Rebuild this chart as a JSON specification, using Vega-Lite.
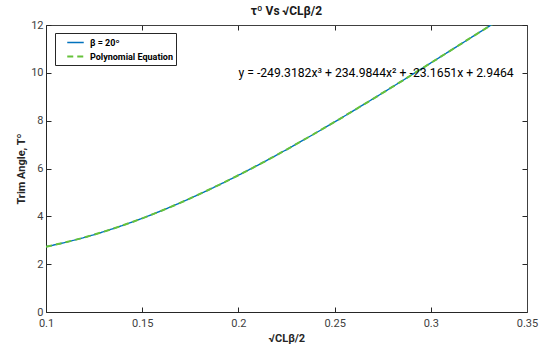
{
  "$schema": "https://vega.github.io/schema/vega-lite/v6.json",
  "width": 481,
  "height": 287,
  "autosize": {"type": "none"},
  "padding": {"left": 46, "top": 25, "right": 24, "bottom": 33},
  "background": "white",
  "config": {
    "font": "Roboto",
    "view": {"stroke": null},
    "axis": {"grid": false, "domainColor": "#262626", "tickColor": "#262626", "labelColor": "#404040", "labelFont": "Roboto", "labelFontSize": 11, "titleFont": "Roboto", "titleFontSize": 11, "titleFontWeight": "bold", "titleColor": "#262626", "tickSize": -5, "domainWidth": 1, "labelFlush": false, "labelOverlap": false}
  },
  "title": {"text": "τº Vs √CLβ/2", "fontSize": 12, "fontWeight": "bold", "font": "Roboto", "color": "#1a1a1a", "offset": 1},
  "datasets": {
    "curve": [
      {"x": 0.10, "y": 2.7304, "series": "β = 20º"},
      {"x": 0.11, "y": 2.9097, "series": "β = 20º"},
      {"x": 0.12, "y": 3.1195, "series": "β = 20º"},
      {"x": 0.13, "y": 3.3584, "series": "β = 20º"},
      {"x": 0.14, "y": 3.6249, "series": "β = 20º"},
      {"x": 0.15, "y": 3.9173, "series": "β = 20º"},
      {"x": 0.16, "y": 4.2344, "series": "β = 20º"},
      {"x": 0.17, "y": 4.5745, "series": "β = 20º"},
      {"x": 0.18, "y": 4.9362, "series": "β = 20º"},
      {"x": 0.19, "y": 5.3179, "series": "β = 20º"},
      {"x": 0.20, "y": 5.7182, "series": "β = 20º"},
      {"x": 0.21, "y": 6.1356, "series": "β = 20º"},
      {"x": 0.22, "y": 6.5686, "series": "β = 20º"},
      {"x": 0.23, "y": 7.0156, "series": "β = 20º"},
      {"x": 0.24, "y": 7.4753, "series": "β = 20º"},
      {"x": 0.25, "y": 7.9461, "series": "β = 20º"},
      {"x": 0.26, "y": 8.4264, "series": "β = 20º"},
      {"x": 0.27, "y": 8.9149, "series": "β = 20º"},
      {"x": 0.28, "y": 9.4099, "series": "β = 20º"},
      {"x": 0.29, "y": 9.9101, "series": "β = 20º"},
      {"x": 0.30, "y": 10.4139, "series": "β = 20º"},
      {"x": 0.31, "y": 10.9198, "series": "β = 20º"},
      {"x": 0.32, "y": 11.4263, "series": "β = 20º"},
      {"x": 0.33, "y": 11.9320, "series": "β = 20º"},
      {"x": 0.335, "y": 12.1840, "series": "β = 20º"},
      {"x": 0.10, "y": 2.7304, "series": "Polynomial Equation"},
      {"x": 0.11, "y": 2.9097, "series": "Polynomial Equation"},
      {"x": 0.12, "y": 3.1195, "series": "Polynomial Equation"},
      {"x": 0.13, "y": 3.3584, "series": "Polynomial Equation"},
      {"x": 0.14, "y": 3.6249, "series": "Polynomial Equation"},
      {"x": 0.15, "y": 3.9173, "series": "Polynomial Equation"},
      {"x": 0.16, "y": 4.2344, "series": "Polynomial Equation"},
      {"x": 0.17, "y": 4.5745, "series": "Polynomial Equation"},
      {"x": 0.18, "y": 4.9362, "series": "Polynomial Equation"},
      {"x": 0.19, "y": 5.3179, "series": "Polynomial Equation"},
      {"x": 0.20, "y": 5.7182, "series": "Polynomial Equation"},
      {"x": 0.21, "y": 6.1356, "series": "Polynomial Equation"},
      {"x": 0.22, "y": 6.5686, "series": "Polynomial Equation"},
      {"x": 0.23, "y": 7.0156, "series": "Polynomial Equation"},
      {"x": 0.24, "y": 7.4753, "series": "Polynomial Equation"},
      {"x": 0.25, "y": 7.9461, "series": "Polynomial Equation"},
      {"x": 0.26, "y": 8.4264, "series": "Polynomial Equation"},
      {"x": 0.27, "y": 8.9149, "series": "Polynomial Equation"},
      {"x": 0.28, "y": 9.4099, "series": "Polynomial Equation"},
      {"x": 0.29, "y": 9.9101, "series": "Polynomial Equation"},
      {"x": 0.30, "y": 10.4139, "series": "Polynomial Equation"},
      {"x": 0.31, "y": 10.9198, "series": "Polynomial Equation"},
      {"x": 0.32, "y": 11.4263, "series": "Polynomial Equation"},
      {"x": 0.33, "y": 11.9320, "series": "Polynomial Equation"},
      {"x": 0.335, "y": 12.1840, "series": "Polynomial Equation"}
    ],
    "note": [
      {"x": 0.2, "y": 10, "label": "y = -249.3182x³ + 234.9844x² + -23.1651x + 2.9464"}
    ]
  },
  "layer": [
    {
      "data": {"name": "curve"},
      "mark": {"type": "line", "clip": true, "interpolate": "monotone"},
      "encoding": {
        "x": {"field": "x", "type": "quantitative", "scale": {"domain": [0.1, 0.35], "nice": false, "zero": false},
              "axis": {"title": "√CLβ/2", "values": [0.1, 0.15, 0.2, 0.25, 0.3, 0.35], "format": "~g", "labelPadding": 10, "titlePadding": 4, "orient": "bottom"}},
        "y": {"field": "y", "type": "quantitative", "scale": {"domain": [0, 12], "nice": false},
              "axis": {"title": "Trim Angle, Tº", "values": [0, 2, 4, 6, 8, 10, 12], "labelPadding": 8, "titlePadding": 4, "orient": "left"}},
        "color": {"field": "series", "type": "nominal",
                  "scale": {"domain": ["β = 20º", "Polynomial Equation"], "range": ["#0072BD", "#66C23A"]},
                  "legend": {"title": null, "orient": "none", "legendX": 9, "legendY": 8, "direction": "vertical",
                             "strokeColor": "#262626", "fillColor": "white", "padding": 3, "rowPadding": 2,
                             "labelFont": "Roboto", "labelFontSize": 9, "labelFontWeight": "bold", "labelColor": "#000000",
                             "symbolType": "M-1.5,0H1.5", "symbolSize": 121, "symbolOffset": 11, "labelOffset": 8, "symbolStrokeWidth": 1.8}},
        "strokeDash": {"field": "series", "type": "nominal",
                       "scale": {"domain": ["β = 20º", "Polynomial Equation"], "range": [[1, 0], [6, 4]]},
                       "legend": null},
        "strokeWidth": {"field": "series", "type": "nominal",
                        "scale": {"domain": ["β = 20º", "Polynomial Equation"], "range": [1.4, 2]},
                        "legend": null},
        "order": {"field": "x", "type": "quantitative"}
      }
    },
    {
      "data": {"name": "note"},
      "mark": {"type": "text", "align": "left", "baseline": "middle", "fontSize": 12.2, "font": "Roboto", "color": "#000000"},
      "encoding": {
        "x": {"field": "x", "type": "quantitative", "axis": {"orient": "top", "labels": false, "title": null, "values": [0.1, 0.15, 0.2, 0.25, 0.3, 0.35], "domainColor": "#404040"}},
        "y": {"field": "y", "type": "quantitative", "axis": {"orient": "right", "labels": false, "title": null, "values": [0, 2, 4, 6, 8, 10, 12], "domainColor": "#404040"}},
        "text": {"field": "label"}
      }
    }
  ],
  "resolve": {"axis": {"x": "independent", "y": "independent"}}
}
